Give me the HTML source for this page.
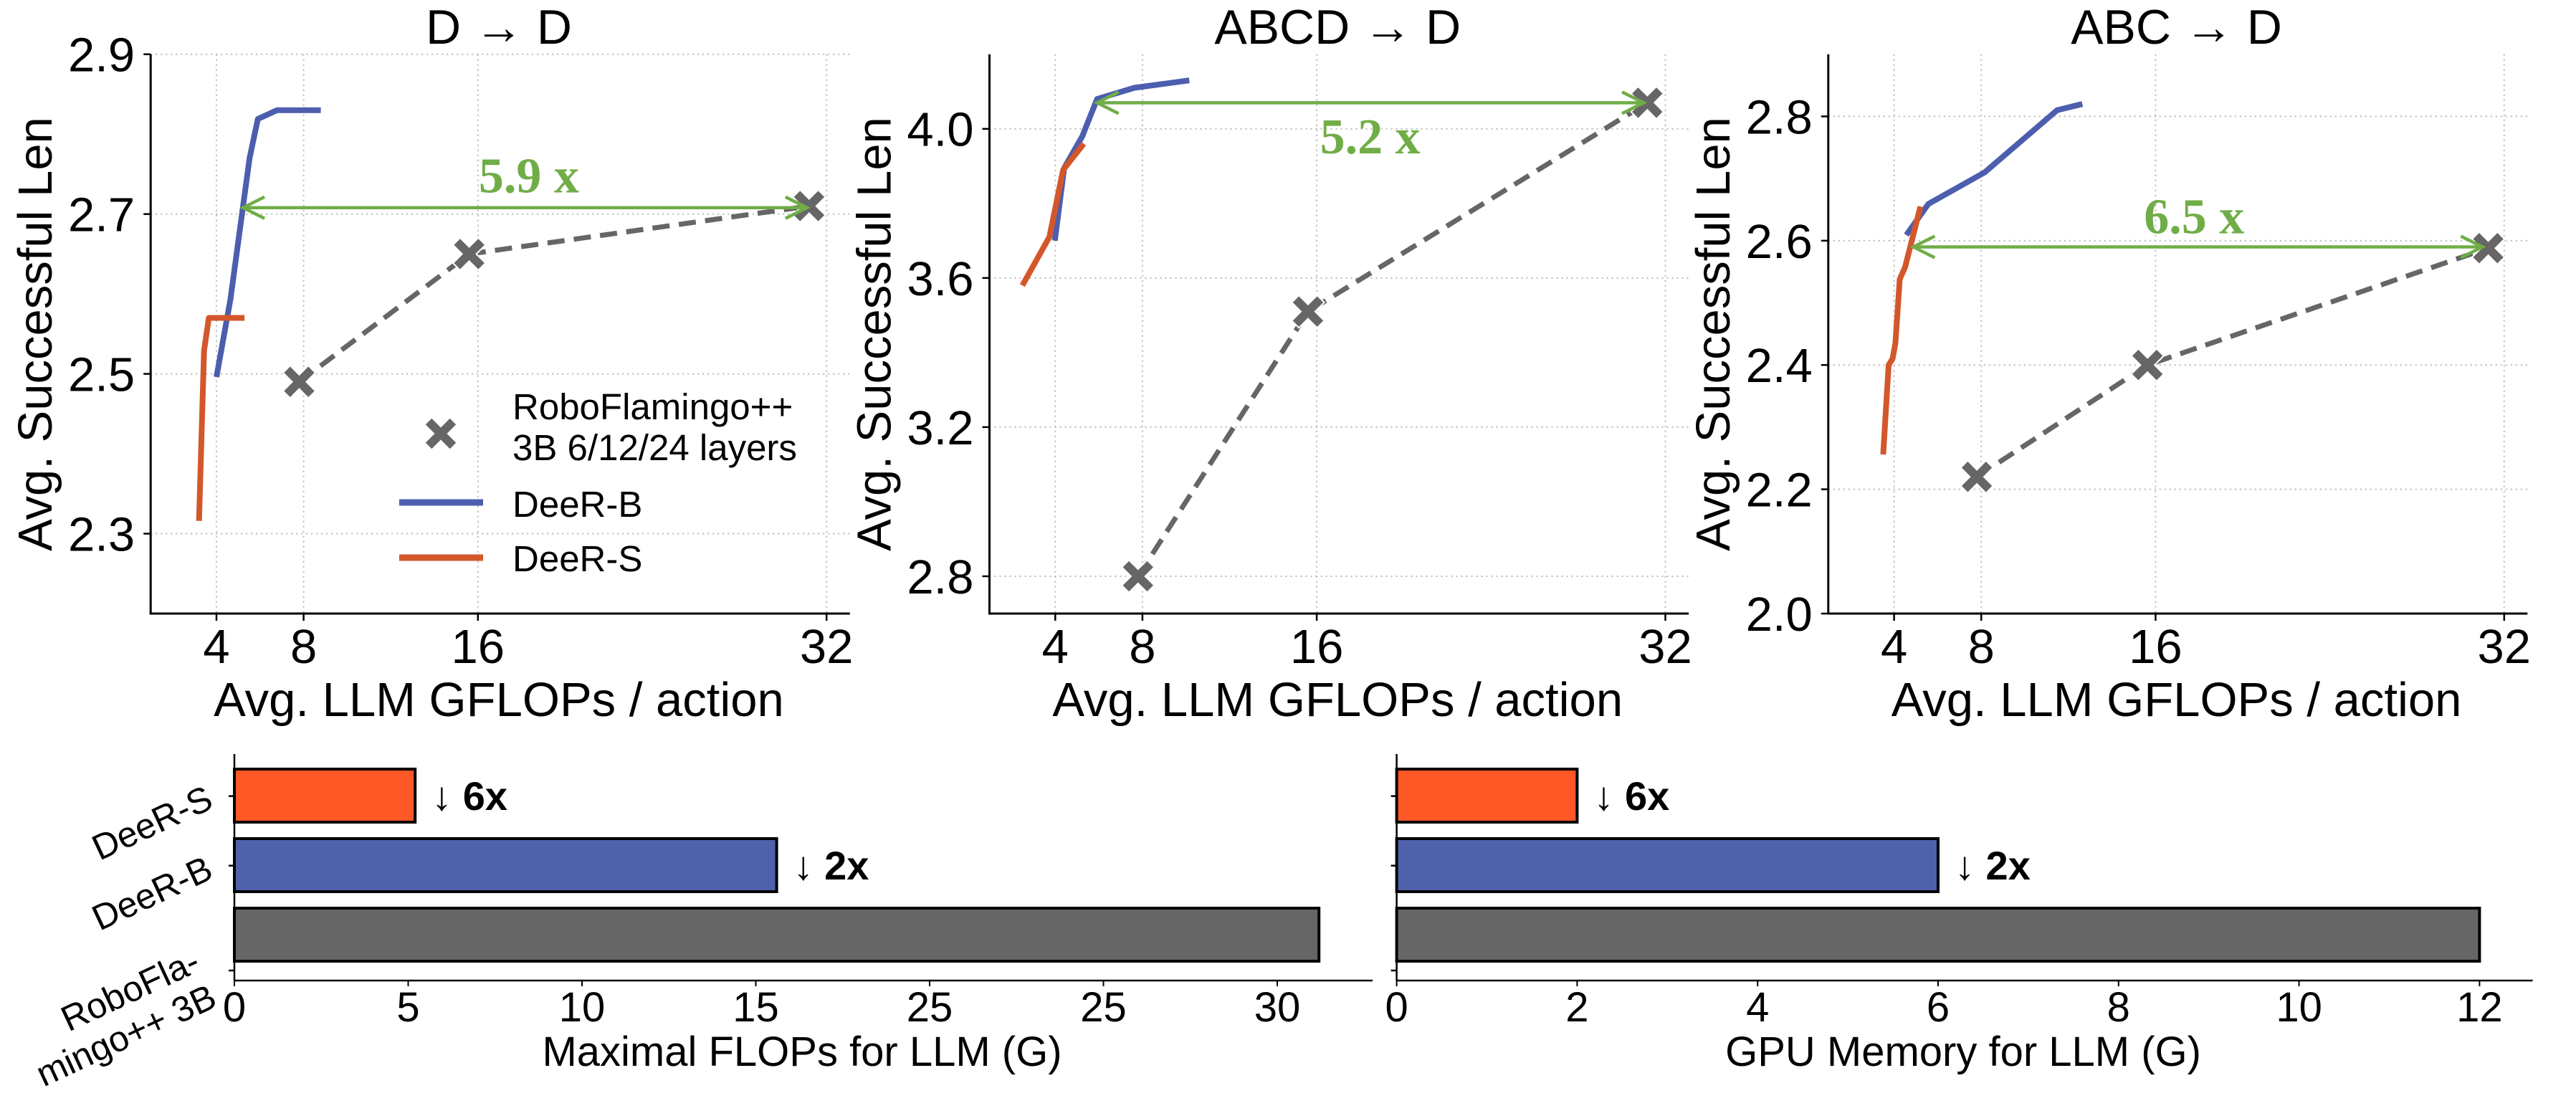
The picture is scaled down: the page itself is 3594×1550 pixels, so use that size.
<!DOCTYPE html>
<html><head><meta charset="utf-8">
<style>
html,body{margin:0;padding:0;background:#fff;}
svg{display:block;}
text{font-family:"Liberation Sans",Arial,sans-serif;fill:#000;}
</style></head>
<body>
<svg id="fig" xmlns="http://www.w3.org/2000/svg" width="3594" height="1550" viewBox="0 0 3594 1550"></svg>
<script>
// ---------- Line chart data ----------
const xTicks = [4, 8, 16, 32];
const xTickLabels = ["4", "8", "16", "32"];
const panelTitles = ["D  \u2192  D", "ABCD  \u2192  D", "ABC  \u2192  D"];
const p1YTicks = [2.3, 2.5, 2.7, 2.9];
const p2YTicks = [2.8, 3.2, 3.6, 4.0];
const p3YTicks = [2.0, 2.2, 2.4, 2.6, 2.8];
const p1YDomain = [2.2, 2.9];
const p2YDomain = [2.7, 4.2];
const p3YDomain = [2.0, 2.9];

const p1GrayX = [7.8, 15.6, 31.2];
const p1GrayY = [2.49, 2.65, 2.71];
const p1BlueX = [4.0, 4.64, 5.52, 5.9, 6.78, 8.79];
const p1BlueY = [2.496, 2.593, 2.77, 2.819, 2.83, 2.83];
const p1OrangeX = [3.2, 3.43, 3.65, 5.29];
const p1OrangeY = [2.316, 2.529, 2.57, 2.57];

const p2GrayX = [7.8, 15.6, 31.17];
const p2GrayY = [2.8, 3.51, 4.07];
const p2BlueX = [3.98, 4.41, 5.24, 5.92, 7.63, 10.15];
const p2BlueY = [3.70, 3.895, 3.98, 4.08, 4.11, 4.13];
const p2OrangeX = [2.49, 3.73, 4.36, 5.31];
const p2OrangeY = [3.58, 3.71, 3.89, 3.96];

const p3GrayX = [7.8, 15.63, 31.27];
const p3GrayY = [2.22, 2.40, 2.588];
const p3BlueX = [4.56, 5.57, 8.16, 11.48, 12.64];
const p3BlueY = [2.609, 2.659, 2.71, 2.81, 2.82];
const p3OrangeX = [3.5, 3.75, 3.93, 4.06, 4.26, 4.51, 5.21];
const p3OrangeY = [2.256, 2.40, 2.41, 2.435, 2.538, 2.558, 2.655];

const arrowLabels = ["5.9 x", "5.2 x", "6.5 x"];
const arrowY = [2.708, 4.07, 2.59];
const arrowFrom = [5.22, 5.92, 4.88];
const arrowTo = [31.1, 31.0, 31.0];
const arrowLabelX = [18.34, 18.45, 17.77];
const arrowLabelY = [2.727, 3.934, 2.612];

// ---------- Bar chart data ----------
const barCategories = ["DeeR-S", "DeeR-B", "RoboFlamingo++ 3B"];
const flopsValues = [5.2, 15.6, 31.2];
const memoryValues = [2, 6, 12];
const flopsTicks = [0, 5, 10, 15, 20, 25, 30];
const flopsTickLabels = ["0", "5", "10", "15", "25", "25", "30"];
const memTicks = [0, 2, 4, 6, 8, 10, 12];
const memTickLabels = ["0", "2", "4", "6", "8", "10", "12"];
const reductionLabels = ["\u2193 6x", "\u2193 2x"];

const NS = "http://www.w3.org/2000/svg";
const svg = document.getElementById("fig");
function mk(tag, attrs, parent) {
  const e = document.createElementNS(NS, tag);
  for (const k in attrs) e.setAttribute(k, attrs[k]);
  (parent || svg).appendChild(e);
  return e;
}

const BLUE = "#4C5EAD", ORANGE = "#D3572A", GRAY = "#666666", GREEN = "#70AD47";

function xMarker(g, cx, cy) {
  const a = 7, L = 25;
  const plus = [[-a,-L],[a,-L],[a,-a],[L,-a],[L,a],[a,a],[a,L],[-a,L],[-a,a],[-L,a],[-L,-a],[-a,-a]];
  const c = Math.SQRT1_2;
  const pts = plus.map(q => (cx + (q[0]-q[1])*c).toFixed(1) + "," + (cy + (q[0]+q[1])*c).toFixed(1)).join(" ");
  return mk("polygon", {points: pts, fill: GRAY, stroke: "#fff", "stroke-width": 2}, g);
}

function drawPanel(idx, zeroPx, yDomain, yTicks, grayX, grayY, blueX, blueY, orX, orY) {
  const top = 75.7, bottom = 856, ppu = 30.4;
  const sx = v => zeroPx + v * ppu;
  const sy = v => bottom - (v - yDomain[0]) / (yDomain[1] - yDomain[0]) * (bottom - top);
  const left = sx(0.98), right = sx(33.07);
  const g = mk("g", {});
  
  

  xTicks.forEach(t => {
    const l = mk("line", {x1: sx(t), x2: sx(t), y1: top, y2: bottom, stroke: "#b8b8b8", "stroke-width": 2, "stroke-dasharray": "2,5"}, g);
    
    
  });
  yTicks.forEach(t => {
    const l = mk("line", {x1: left, x2: right, y1: sy(t), y2: sy(t), stroke: "#b8b8b8", "stroke-width": 2, "stroke-dasharray": "2,5"}, g);
    
    
  });

  const ls = mk("line", {x1: left, x2: left, y1: top, y2: bottom + 1.5, stroke: "#000", "stroke-width": 3}, g);
  
  
  const bs = mk("line", {x1: left - 1.5, x2: right, y1: bottom, y2: bottom, stroke: "#000", "stroke-width": 3}, g);
  
  

  xTicks.forEach((t, i) => {
    mk("line", {x1: sx(t), x2: sx(t), y1: bottom, y2: bottom + 10, stroke: "#000", "stroke-width": 2.5}, g);
    const tx = mk("text", {x: sx(t), y: 925, "text-anchor": "middle", "font-size": 67}, g);
    tx.textContent = xTickLabels[i];
    
    
  });
  yTicks.forEach(t => {
    mk("line", {x1: left - 10, x2: left, y1: sy(t), y2: sy(t), stroke: "#000", "stroke-width": 2.5}, g);
    const tx = mk("text", {x: left - 22, y: sy(t) + 24, "text-anchor": "end", "font-size": 67}, g);
    tx.textContent = t.toFixed(1);
    
    
  });

  const ttl = mk("text", {x: (left + right) / 2 - 2, y: 61, "text-anchor": "middle", "font-size": 68}, g);
  ttl.textContent = panelTitles[idx];
  
  
  const xl = mk("text", {x: (left + right) / 2 - 2, y: 999, "text-anchor": "middle", "font-size": 67}, g);
  xl.textContent = "Avg. LLM GFLOPs / action";
  
  
  const yl = mk("text", {transform: "translate(" + (left - 138) + ",466) rotate(-90)", "text-anchor": "middle", "font-size": 67}, g);
  yl.textContent = "Avg. Successful Len";
  
  

  const pts = (xs, ys) => xs.map((x, i) => sx(x) + "," + sy(ys[i])).join(" ");
  const gl = mk("polyline", {points: pts(grayX, grayY), fill: "none", stroke: GRAY, "stroke-width": 7, "stroke-dasharray": "24,13"}, g);
  
  
  const bl = mk("polyline", {points: pts(blueX, blueY), fill: "none", stroke: BLUE, "stroke-width": 8, "stroke-linejoin": "round"}, g);
  
  
  const ol = mk("polyline", {points: pts(orX, orY), fill: "none", stroke: ORANGE, "stroke-width": 8, "stroke-linejoin": "round"}, g);
  
  
  grayX.forEach((x, i) => {
    const m = xMarker(g, sx(x), sy(grayY[i]));
    
    
  });

  const ay = sy(arrowY[idx]), ax1 = sx(arrowFrom[idx]), ax2 = sx(arrowTo[idx]);
  const ag = mk("g", {stroke: GREEN, "stroke-width": 4.5, fill: "none"}, g);
  
  
  mk("line", {x1: ax1, x2: ax2, y1: ay, y2: ay}, ag);
  mk("polyline", {points: (ax1 + 30) + "," + (ay - 15) + " " + ax1 + "," + ay + " " + (ax1 + 30) + "," + (ay + 15)}, ag);
  mk("polyline", {points: (ax2 - 30) + "," + (ay - 15) + " " + ax2 + "," + ay + " " + (ax2 - 30) + "," + (ay + 15)}, ag);
  const at = mk("text", {x: sx(arrowLabelX[idx]), y: sy(arrowLabelY[idx]), "text-anchor": "middle", "font-size": 70, "font-weight": "bold", style: "font-family:'Liberation Serif',serif;fill:" + GREEN}, g);
  at.textContent = arrowLabels[idx];
  
  
}

drawPanel(0, 180.4, p1YDomain, p1YTicks, p1GrayX, p1GrayY, p1BlueX, p1BlueY, p1OrangeX, p1OrangeY);
drawPanel(1, 1350.7, p2YDomain, p2YTicks, p2GrayX, p2GrayY, p2BlueX, p2BlueY, p2OrangeX, p2OrangeY);
drawPanel(2, 2521, p3YDomain, p3YTicks, p3GrayX, p3GrayY, p3BlueX, p3BlueY, p3OrangeX, p3OrangeY);

const lg = mk("g", {});


const lm = xMarker(lg, 615, 605);


const lt1 = mk("text", {x: 715, y: 585, "font-size": 51}, lg);
lt1.textContent = "RoboFlamingo++";


const lt2 = mk("text", {x: 715, y: 642, "font-size": 51}, lg);
lt2.textContent = "3B 6/12/24 layers";


mk("line", {x1: 557, x2: 674, y1: 701, y2: 701, stroke: BLUE, "stroke-width": 9}, lg);
const lt3 = mk("text", {x: 715, y: 721, "font-size": 51}, lg);
lt3.textContent = "DeeR-B";


mk("line", {x1: 557, x2: 674, y1: 778, y2: 778, stroke: ORANGE, "stroke-width": 9}, lg);
const lt4 = mk("text", {x: 715, y: 797, "font-size": 51}, lg);
lt4.textContent = "DeeR-S";



const BAR_COLORS = ["#FD5825", "#4E61AA", "#666666"];
function drawBars(name, left, ppu, right, values, ticks, tickLabels, title, labelShow) {
  const bottom = 1368, topY = 1052;
  const sx = v => left + v * ppu;
  const cy = i => 1110 + 97 * i;
  const g = mk("g", {});
  
  
  values.forEach((v, i) => {
    const r = mk("rect", {x: left, y: cy(i) - 37, width: sx(v) - left, height: 74, fill: BAR_COLORS[i], stroke: "#000", "stroke-width": 4}, g);
    
    
    if (i < 2) {
      const t = mk("text", {x: sx(v) + 23, y: cy(i) + 20, "font-size": 56, "font-weight": "bold"}, g);
      t.textContent = reductionLabels[i];
      
      
    }
  });
  const ys = mk("line", {x1: left, x2: left, y1: topY, y2: bottom, stroke: "#000", "stroke-width": 2.5}, g);
  
  
  const xs = mk("line", {x1: left, x2: right, y1: bottom, y2: bottom, stroke: "#000", "stroke-width": 2.5}, g);
  
  
  [1110.7, 1207.7, 1354].forEach(y => mk("line", {x1: left - 8, x2: left, y1: y, y2: y, stroke: "#000", "stroke-width": 2.5}, g));
  ticks.forEach((t, i) => {
    mk("line", {x1: sx(t), x2: sx(t), y1: bottom, y2: bottom + 8, stroke: "#000", "stroke-width": 2}, g);
    const tx = mk("text", {x: sx(t), y: 1425, "text-anchor": "middle", "font-size": 58}, g);
    tx.textContent = tickLabels[i];
    
    
  });
  const xl = mk("text", {x: (left + right) / 2 - 2, y: 1487, "text-anchor": "middle", "font-size": 58}, g);
  xl.textContent = title;
  
  
  if (labelShow) {
    const c1 = mk("text", {transform: "translate(300,1126) rotate(-25)", "text-anchor": "end", "font-size": 50}, g);
    c1.textContent = "DeeR-S";
    
    
    const c2 = mk("text", {transform: "translate(300,1224) rotate(-25)", "text-anchor": "end", "font-size": 50}, g);
    c2.textContent = "DeeR-B";
    
    
    const c3 = mk("text", {transform: "translate(282,1353) rotate(-25)", "text-anchor": "end", "font-size": 50}, g);
    
    
    const s1 = mk("tspan", {x: 0, y: 0}, c3); s1.textContent = "RoboFla-";
    const s2 = mk("tspan", {x: 0, y: 55}, c3); s2.textContent = "mingo++ 3B";
  }
}
drawBars("flops-bar-chart", 327, 48.5, 1915, flopsValues, flopsTicks, flopsTickLabels, "Maximal FLOPs for LLM (G)", true);
drawBars("memory-bar-chart", 1948.6, 125.9, 3533.5, memoryValues, memTicks, memTickLabels, "GPU Memory for LLM (G)", false);
</script>
</body></html>
